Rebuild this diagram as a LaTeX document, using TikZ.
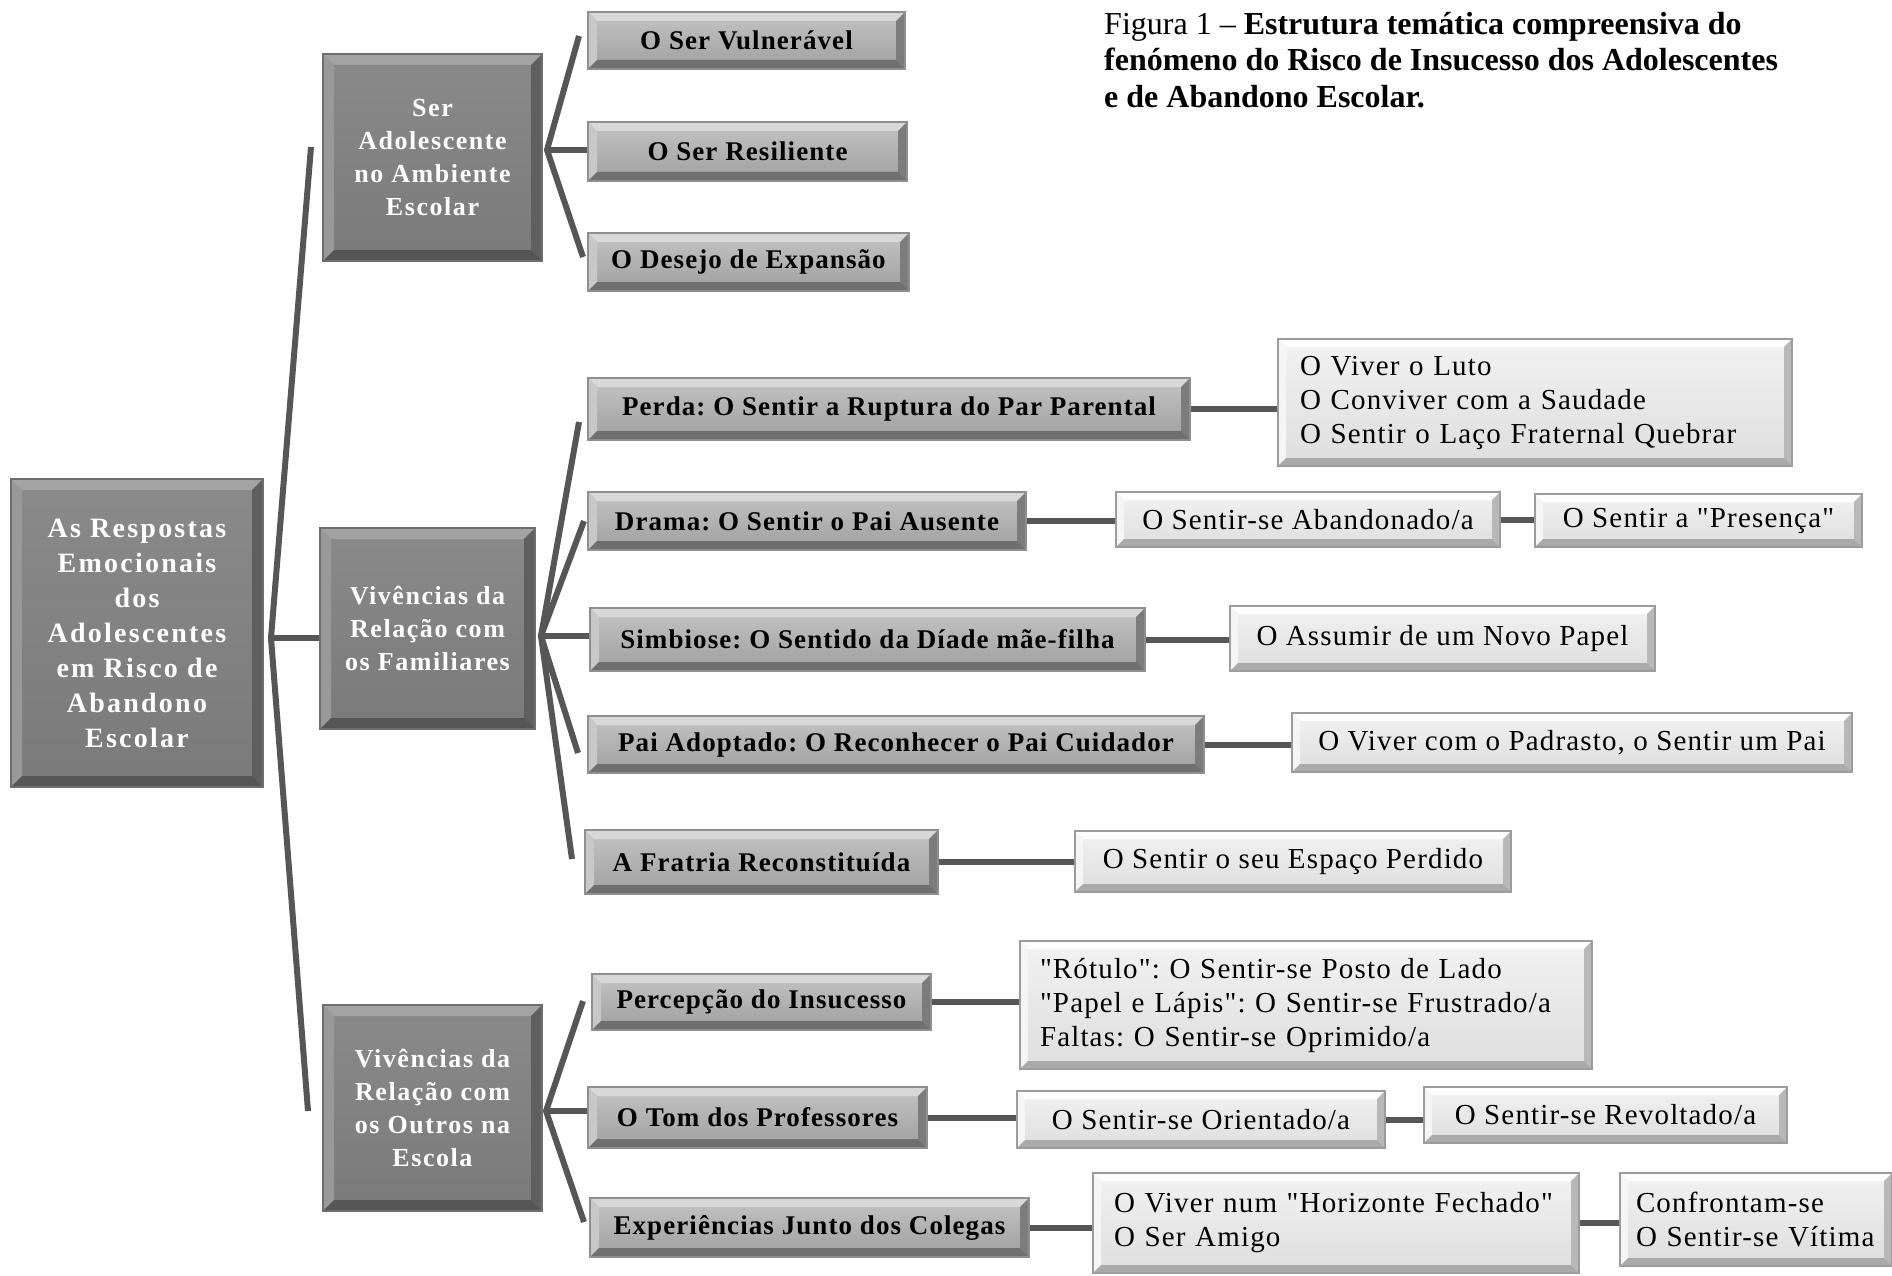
\documentclass[tikz,border=0pt]{standalone}
\usepackage{fontspec}
\setmainfont{Liberation Serif}
\newfontfamily\fa{Liberation Serif}[LetterSpace=8]
\newfontfamily\fb{Liberation Serif}[LetterSpace=6]
\newfontfamily\fc{Liberation Serif}[LetterSpace=4]
\newfontfamily\fd{Liberation Serif}[LetterSpace=4]
\frenchspacing
\definecolor{lineC}{HTML}{565656}
\definecolor{aFT}{HTML}{8A8A8A}\definecolor{aFB}{HTML}{7A7A7A}
\definecolor{aTop}{HTML}{A3A3A3}\definecolor{aLft}{HTML}{999999}
\definecolor{aRgt}{HTML}{5F5F5F}\definecolor{aBot}{HTML}{555555}\definecolor{aBrd}{HTML}{6E6E6E}
\definecolor{bFT}{HTML}{C4C4C4}\definecolor{bFB}{HTML}{9F9F9F}
\definecolor{bTop}{HTML}{D8D8D8}\definecolor{bLft}{HTML}{C8C8C8}
\definecolor{bRgt}{HTML}{7C7C7C}\definecolor{bBot}{HTML}{6F6F6F}\definecolor{bBrd}{HTML}{8F8F8F}
\definecolor{cFT}{HTML}{F2F2F2}\definecolor{cFB}{HTML}{DEDEDE}
\definecolor{cTop}{HTML}{FFFFFF}\definecolor{cLft}{HTML}{F5F5F5}
\definecolor{cRgt}{HTML}{B8B8B8}\definecolor{cBot}{HTML}{AAAAAA}\definecolor{cBrd}{HTML}{9C9C9C}
\tikzset{
  bevel/.style n args={5}{
    path picture={
      \path (path picture bounding box.north west) coordinate (bNW)
            (path picture bounding box.north east) coordinate (bNE)
            (path picture bounding box.south west) coordinate (bSW)
            (path picture bounding box.south east) coordinate (bSE);
      \path ([xshift=#5,yshift=-#5]bNW) coordinate (iNW)
            ([xshift=-#5,yshift=-#5]bNE) coordinate (iNE)
            ([xshift=#5,yshift=#5]bSW) coordinate (iSW)
            ([xshift=-#5,yshift=#5]bSE) coordinate (iSE);
      \fill[fill=#1] (bNW) -- (bNE) -- (iNE) -- (iNW) -- cycle;
      \fill[fill=#2] (bNW) -- (iNW) -- (iSW) -- (bSW) -- cycle;
      \fill[fill=#3] (bNE) -- (bSE) -- (iSE) -- (iNE) -- cycle;
      \fill[fill=#4] (bSW) -- (iSW) -- (iSE) -- (bSE) -- cycle;
    }
  },
  boxa/.style={draw=aBrd, line width=1.2pt, top color=aFT, bottom color=aFB,
    bevel={aTop}{aLft}{aRgt}{aBot}{11pt}, text=white, align=center, inner sep=0pt,
    font=\fb\bfseries\fontsize{26}{33}\selectfont},
  boxb/.style={draw=bBrd, line width=1.2pt, top color=bFT, bottom color=bFB,
    bevel={bTop}{bLft}{bRgt}{bBot}{9pt}, text=black, align=center, inner sep=0pt,
    font=\fc\bfseries\fontsize{27}{33}\selectfont},
  boxc/.style={draw=cBrd, line width=1.2pt, top color=cFT, bottom color=cFB,
    bevel={cTop}{cLft}{cRgt}{cBot}{8pt}, text=black, align=left, inner sep=0pt,
    font=\fd\fontsize{29}{34}\selectfont},
  conn/.style={draw=lineC, line width=6pt},
}
\begin{document}
\begin{tikzpicture}[x=1pt,y=-1pt]
\useasboundingbox (0,0) rectangle (1892,1276);
% title
\node[anchor=north west, inner sep=0pt, align=left,
  font=\bfseries\fontsize{32}{36.5}\selectfont] (title) at (1104,12)
  {{\mdseries Figura 1 –} Estrutura temática compreensiva do\\
   fenómeno do Risco de Insucesso dos Adolescentes\\
   e de Abandono Escolar.};
% root
\node[boxa, font=\fa\bfseries\fontsize{28}{35}\selectfont,
  minimum width=252pt, minimum height=308pt] (root) at (137,633)
  {As Respostas\\Emocionais\\dos\\Adolescentes\\em Risco de\\Abandono\\Escolar};
% level 1
\node[boxa, minimum width=219pt, minimum height=207pt] (ser) at (432.5,157.5)
  {Ser\\Adolescente\\no Ambiente\\Escolar};
\node[boxa, minimum width=215pt, minimum height=201pt] (fam) at (427.5,628.5)
  {Vivências da\\Relação com\\os Familiares};
\node[boxa, minimum width=219pt, minimum height=206pt] (esc) at (432.5,1108)
  {Vivências da\\Relação com\\os Outros na\\Escola};
% level 2
\node[boxb, minimum width=317pt, minimum height=57pt] (vul) at (746.5,40.5) {O Ser Vulnerável};
\node[boxb, minimum width=319pt, minimum height=59pt] (res) at (747.5,151.5) {O Ser Resiliente};
\node[boxb, minimum width=321pt, minimum height=58pt] (des) at (748.5,262) {O Desejo de Expansão};
\node[boxb, minimum width=602pt, minimum height=62pt] (perda) at (889,409) {Perda: O Sentir a Ruptura do Par Parental};
\node[boxb, minimum width=438pt, minimum height=58pt] (drama) at (807,521) {Drama: O Sentir o Pai Ausente};
\node[boxb, minimum width=555pt, minimum height=63pt] (simb) at (867.5,639.5) {Simbiose: O Sentido da Díade mãe-filha};
\node[boxb, minimum width=616pt, minimum height=57pt] (pai) at (896,744.5) {Pai Adoptado: O Reconhecer o Pai Cuidador};
\node[boxb, minimum width=353pt, minimum height=64pt] (frat) at (761.5,862) {A Fratria Reconstituída};
\node[boxb, minimum width=339pt, minimum height=56pt] (perc) at (761.5,1002) {Percepção do Insucesso};
\node[boxb, minimum width=339pt, minimum height=61pt] (tom) at (757.5,1117.5) {O Tom dos Professores};
\node[boxb, minimum width=439pt, minimum height=59pt] (exp) at (809.5,1227.5) {Experiências Junto dos Colegas};
% level 3
\node[boxc, minimum width=514pt, minimum height=127pt, text width=470pt] (luto) at (1535,402.5)
  {O Viver o Luto\\O Conviver com a Saudade\\O Sentir o Laço Fraternal Quebrar};
\node[boxc, minimum width=384pt, minimum height=55pt] (aband) at (1308,519.5) {O Sentir-se Abandonado/a};
\node[boxc, minimum width=327pt, minimum height=53pt] (pres) at (1698.5,520.5) {O Sentir a "Presença"};
\node[boxc, minimum width=425pt, minimum height=65pt] (assum) at (1442.5,638.5) {O Assumir de um Novo Papel};
\node[boxc, minimum width=560pt, minimum height=59pt] (padr) at (1572,742.5) {O Viver com o Padrasto, o Sentir um Pai};
\node[boxc, minimum width=436pt, minimum height=61pt] (espaco) at (1293,861.5) {O Sentir o seu Espaço Perdido};
\node[boxc, minimum width=572pt, minimum height=128pt, text width=532pt] (rotulo) at (1306,1005)
  {"Rótulo": O Sentir-se Posto de Lado\\"Papel e Lápis": O Sentir-se Frustrado/a\\Faltas: O Sentir-se Oprimido/a};
\node[boxc, minimum width=368pt, minimum height=57pt] (orient) at (1201,1119.5) {O Sentir-se Orientado/a};
\node[boxc, minimum width=363pt, minimum height=56pt] (revol) at (1605.5,1115) {O Sentir-se Revoltado/a};
\node[boxc, minimum width=486pt, minimum height=100pt, text width=444pt] (horiz) at (1336,1223)
  {O Viver num "Horizonte Fechado"\\O Ser Amigo};
\node[boxc, minimum width=272pt, minimum height=93pt, text width=240pt] (confr) at (1756,1219.5)
  {Confrontam-se\\O Sentir-se Vítima};
% bracket connectors
\coordinate (v0) at (271,638);
\coordinate (e0a) at (311,147);
\coordinate (e0c) at (308,1111);
\draw[conn] (e0a) -- (v0) -- (e0c);
\draw[conn] (v0) -- (v0 -| fam.west);
\coordinate (v1) at (547,150);
\coordinate (e1a) at (579,36);
\coordinate (e1c) at (583,257);
\draw[conn] (e1a) -- (v1) -- (e1c);
\draw[conn] (v1) -- (v1 -| res.west);
\coordinate (v2) at (541,636);
\coordinate (e2a) at (579,422);
\coordinate (e2b) at (584,521);
\coordinate (e2d) at (578,753);
\coordinate (e2e) at (572,859);
\draw[conn] (e2a) -- (v2) -- (e2e);
\draw[conn] (e2b) -- (v2) -- (e2d);
\draw[conn] (v2) -- (v2 -| simb.west);
\coordinate (v3) at (546,1111);
\coordinate (e3a) at (583,1001);
\coordinate (e3c) at (584,1222);
\draw[conn] (e3a) -- (v3) -- (e3c);
\draw[conn] (v3) -- (v3 -| tom.west);
% horizontal connectors
\draw[conn] (perda.east) -- (perda.east -| luto.west);
\draw[conn] (drama.east) -- (drama.east -| aband.west);
\draw[conn] (aband.east) -- (aband.east -| pres.west);
\draw[conn] (simb.east) -- (simb.east -| assum.west);
\draw[conn] (pai.east) -- (pai.east -| padr.west);
\draw[conn] (frat.east) -- (frat.east -| espaco.west);
\draw[conn] (perc.east) -- (perc.east -| rotulo.west);
\draw[conn] (tom.east) -- (tom.east -| orient.west);
\draw[conn] (orient.east) -- (orient.east -| revol.west);
\draw[conn] (exp.east) -- (exp.east -| horiz.west);
\draw[conn] (horiz.east) -- (horiz.east -| confr.west);
\end{tikzpicture}
\end{document}
